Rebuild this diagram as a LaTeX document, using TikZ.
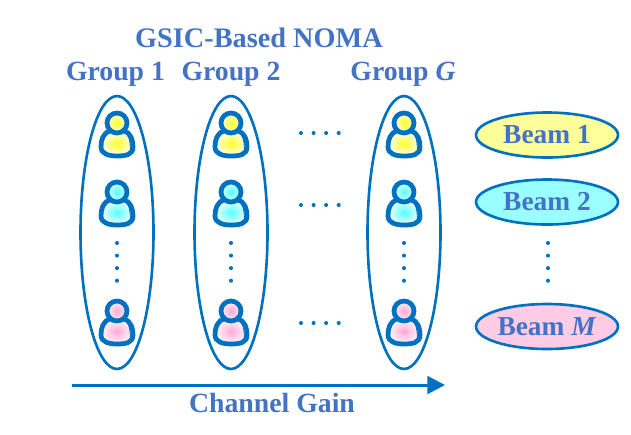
\documentclass[tikz,border=0pt]{standalone}
\usepackage{fontspec}
\setmainfont{Liberation Serif}
\usetikzlibrary{arrows.meta,shapes.geometric}
\definecolor{noma_text}{RGB}{68, 114, 196}
\definecolor{noma_line}{RGB}{0, 112, 192}
\definecolor{beam_yellow}{RGB}{255, 255, 153}
\definecolor{beam_cyan}{RGB}{153, 255, 255}
\definecolor{beam_pink}{RGB}{255, 204, 230}
\definecolor{user_yellow}{RGB}{255, 255, 0}
\definecolor{user_cyan}{RGB}{51, 255, 255}
\definecolor{user_pink}{RGB}{255, 153, 204}
\tikzstyle{lbl}=[text=noma_text,font=\bfseries\fontsize{15.8}{18}\selectfont,inner sep=0pt]
\tikzstyle{ttl}=[text=noma_text,font=\bfseries\fontsize{16.1}{20}\selectfont,inner sep=0pt]
\tikzstyle{grp}=[ellipse,draw=noma_line,line width=1.5pt,inner sep=0pt,
  minimum width=1.46cm,minimum height=5.46cm]
\tikzstyle{bm}=[ellipse,draw=noma_line,line width=1.5pt,inner sep=0pt,
  text=noma_text,font=\bfseries\fontsize{15.6}{18}\selectfont,
  minimum width=2.84cm,minimum height=0.9cm]
\tikzstyle{dotline}=[draw=noma_line,line width=2.3pt,line cap=round,
  dash pattern=on 0pt off 7.15pt]
\tikzset{pics/user/.style={code={
  \draw[draw=noma_line,line width=2.7pt,inner color=#1!85!white,outer color=#1!5!white]
    (-7,8) .. controls (-14,10) and (-16,17) .. (-16,24)
    .. controls (-16,31) and (-8,33) .. (0,33)
    .. controls (8,33) and (16,32) .. (16,24)
    .. controls (16,17) and (14,10) .. (7,8) -- cycle;
  \draw[draw=noma_line,line width=0.5pt] (10,11) .. controls (13,15) and (14,24) .. (13,30);
  \draw[draw=noma_line,line width=2.7pt,inner color=#1!85!white,outer color=#1!15!white]
    (0,0) circle (10);
}}}

\begin{document}
\begin{tikzpicture}[x=0.02cm,y=-0.02cm]
        \useasboundingbox (0,0) rectangle (631,434);
        \node[style=ttl] (title) at (259,38) {GSIC-Based NOMA};
        \node[style=lbl] (g1) at (115.5,74) {Group 1};
        \node[style=lbl] (g2) at (231,74) {Group 2};
        \node[style=lbl] (g3) at (403,74) {Group \textit{G}};
        \node[style=grp] (e1) at (117,232.5) {};
        \node[style=grp] (e2) at (231,232.5) {};
        \node[style=grp] (e3) at (404,232.5) {};
        \pic (u11) at (117,123) {user=user_yellow};
        \pic (u12) at (117,192) {user=user_cyan};
        \pic (u13) at (117,311) {user=user_pink};
        \pic (u21) at (231,123) {user=user_yellow};
        \pic (u22) at (231,192) {user=user_cyan};
        \pic (u23) at (231,311) {user=user_pink};
        \pic (u31) at (404,123) {user=user_yellow};
        \pic (u32) at (404,192) {user=user_cyan};
        \pic (u33) at (404,311) {user=user_pink};
        \node[style=bm,fill=beam_yellow] (b1) at (547,135) {Beam 1};
        \node[style=bm,fill=beam_cyan] (b2) at (547,202) {Beam 2};
        \node[style=bm,fill=beam_pink] (b3) at (547,326.5) {Beam \textit{M}};
        \coordinate (d1a) at (117,243);
        \coordinate (d1b) at (117,282);
        \coordinate (d2a) at (231,243);
        \coordinate (d2b) at (231,282);
        \coordinate (d3a) at (404,243);
        \coordinate (d3b) at (404,282);
        \coordinate (d4a) at (548,243);
        \coordinate (d4b) at (548,282);
        \coordinate (h1a) at (301,133);
        \coordinate (h1b) at (340,133);
        \coordinate (h2a) at (301,205);
        \coordinate (h2b) at (340,205);
        \coordinate (h3a) at (301,323);
        \coordinate (h3b) at (340,323);
        \draw[style=dotline] (d1a) to (d1b);
        \draw[style=dotline] (d2a) to (d2b);
        \draw[style=dotline] (d3a) to (d3b);
        \draw[style=dotline] (d4a) to (d4b);
        \draw[style=dotline] (h1a) to (h1b);
        \draw[style=dotline] (h2a) to (h2b);
        \draw[style=dotline] (h3a) to (h3b);
        \coordinate (start) at (72,385);
        \coordinate (end) at (445,385);
        \draw[draw=noma_line,line width=1.7pt,-{Triangle[length=10pt,width=10pt]}] (start) to (end);
        \node[style=lbl] (gain) at (272,403) {Channel Gain};
\end{tikzpicture}
\end{document}
